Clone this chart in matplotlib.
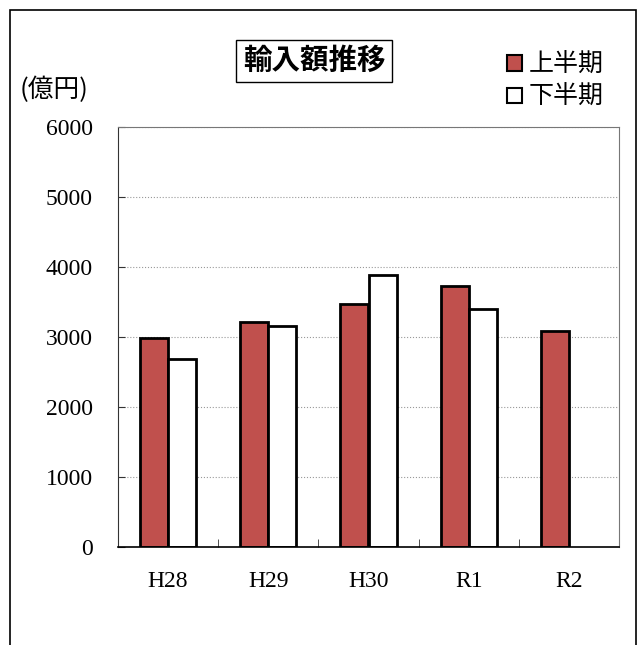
import matplotlib.pyplot as plt
import numpy as np
from matplotlib.patches import Rectangle

categories = ['H28', 'H29', 'H30', 'R1', 'R2']
first_half = [2980, 3220, 3465, 3730, 3085]
second_half = [2690, 3160, 3885, 3405, np.nan]
labels = ['上半期', '下半期']

jp = ['Noto Sans CJK JP', 'DejaVu Sans']
num = ['Liberation Serif', 'Noto Sans CJK JP']

fig = plt.figure(figsize=(6.41, 6.45), dpi=100)
ax = fig.add_axes([118/641, 1-547/645, 501/641, 420/645])

x = np.arange(len(categories))
w = 0.28
b1 = ax.bar(x - w/2, first_half, w, color='#C0504D', edgecolor='black', linewidth=2, label=labels[0])
b2 = ax.bar(x + w/2, second_half, w, color='white', edgecolor='black', linewidth=2, label=labels[1])

ax.set_xlim(-0.5, len(categories) - 0.5)
ax.set_ylim(0, 6000)
ax.set_yticks(np.arange(0, 6001, 1000))
ax.yaxis.grid(True, linestyle=':', color='#999999', linewidth=0.8)
ax.set_axisbelow(True)

ax.set_xticks(x)
ax.set_xticklabels(categories, fontfamily=num, fontsize=17)
ax.set_xticks(np.arange(0.5, len(categories) - 1), minor=True)
ax.tick_params(axis='x', which='major', length=0, pad=17)
ax.tick_params(axis='x', which='minor', direction='in', length=6, color='#333333')
ax.tick_params(axis='y', direction='in', length=5, pad=18, color='#333333')
for t in ax.get_yticklabels():
    t.set_fontfamily(num)
    t.set_fontsize(17)

for s in ['top', 'right']:
    ax.spines[s].set_color('#777777')
    ax.spines[s].set_linewidth(0.8)
ax.spines['left'].set_color('#333333')
ax.spines['bottom'].set_color('black')
ax.spines['bottom'].set_linewidth(1.2)

fig.text(314/641, 1-61/645, '輸入額推移', fontfamily=jp, fontsize=20.5, fontweight='bold',
         ha='center', va='center',
         bbox=dict(boxstyle='square,pad=0.25', facecolor='white', edgecolor='black', linewidth=1))
fig.text(20/641, 1-90/645, '(億円)', fontfamily=jp, fontsize=18.5, ha='left', va='center')

leg = fig.legend(handles=[b1, b2], labels=labels, loc='upper left',
                 bbox_to_anchor=(497/641, 1-42/645), frameon=False,
                 prop={'family': jp, 'size': 18}, handlelength=0.6, handleheight=0.6,
                 handletextpad=0.25, labelspacing=0.25, borderaxespad=0)
for h in leg.legend_handles:
    h.set_linewidth(1.5)

fig.patches.append(Rectangle((10/641, -0.05), 626/641, 1.05 - 10/645,
                             transform=fig.transFigure, fill=False,
                             edgecolor='black', linewidth=1.2))

fig.savefig('out.png', dpi=100)
